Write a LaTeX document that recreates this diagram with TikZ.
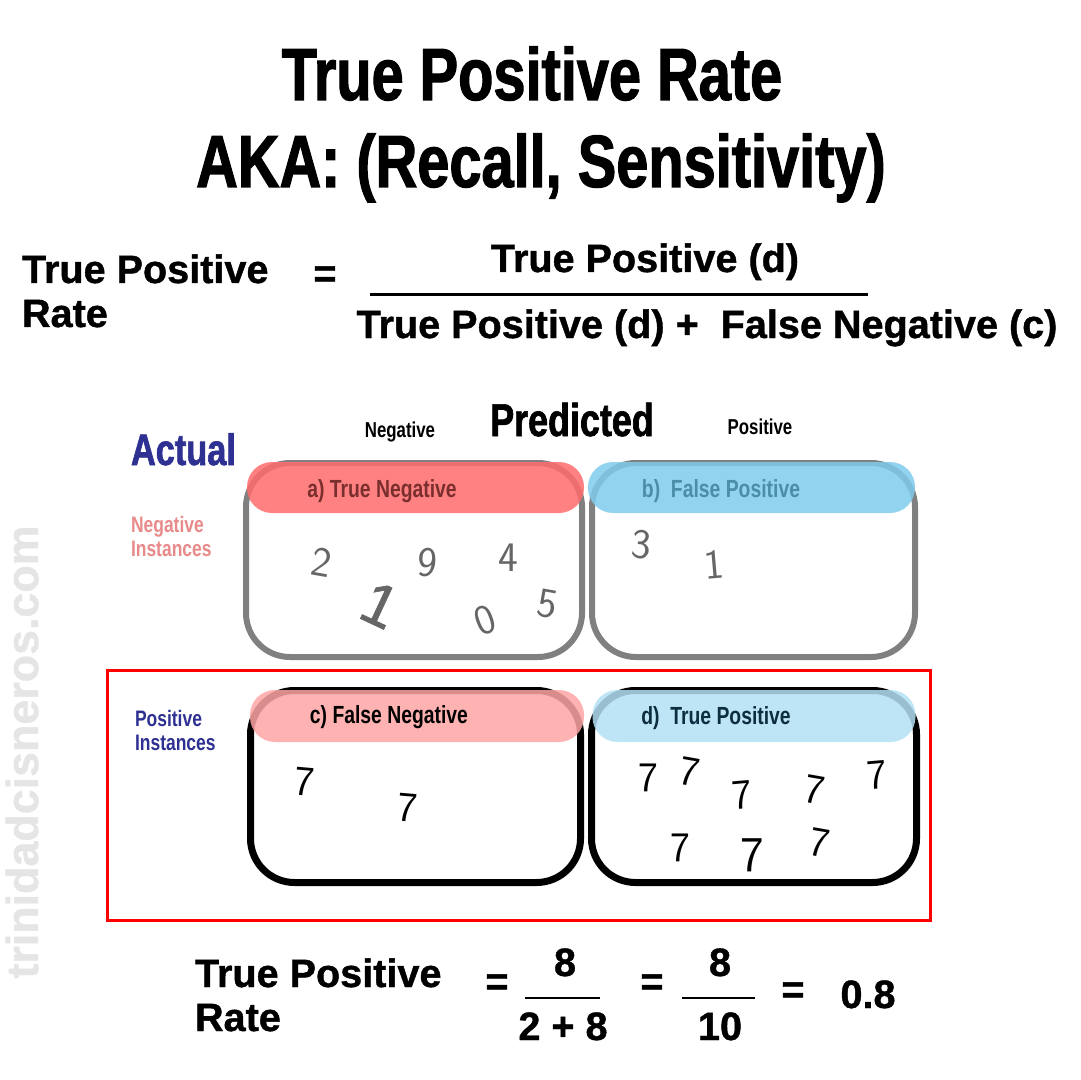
\documentclass[tikz,border=0pt]{standalone}
\usepackage{fontspec}
\setmainfont{Liberation Sans}
\newfontfamily\condfont[FakeStretch=0.78]{Liberation Sans}
\newfontfamily\titlefont[FakeStretch=0.78,FakeBold=1.5]{Liberation Sans}
\newfontfamily\heavyfont[FakeBold=1]{Liberation Sans}
\usepackage{xcolor}
\usepackage{tikz}
\usetikzlibrary{positioning}

\definecolor{navy}{HTML}{2E3192}
\definecolor{pinktxt}{HTML}{E88A8A}
\definecolor{tnred}{HTML}{FF6B6B}
\definecolor{tntxt}{HTML}{7A2E2E}
\definecolor{fpblue}{HTML}{7FCBEC}
\definecolor{fptxt}{HTML}{4A8EAA}
\definecolor{fnpink}{HTML}{FFA5A5}
\definecolor{tpblue}{HTML}{B3E0F4}
\definecolor{tptxt}{HTML}{0D2E3D}

\begin{document}
\begin{tikzpicture}[
  x=0.5pt, y=-0.5pt,
  every node/.style={inner sep=0pt, outer sep=0pt},
  cell/.style={draw, rounded corners=22pt, line width=3pt, minimum height=97pt},
  head/.style={rounded corners=12.5pt, minimum height=25.5pt, fill opacity=0.85},
  headtxt/.style={font=\condfont\bfseries\fontsize{12.4}{14}\selectfont},
  formula/.style={font=\heavyfont\bfseries\fontsize{19.8}{22}\selectfont, anchor=base},
  side/.style={font=\condfont\bfseries\fontsize{11.2}{13}\selectfont, anchor=base west},
  digit/.style={font=\sffamily\fontsize{21}{21}\selectfont},
]
\useasboundingbox (0,0) rectangle (1080,1080);

% watermark
\node (W) [rotate=90, text=black!10, font=\heavyfont\bfseries\fontsize{22.4}{24}\selectfont] at (22,752) {trinidadcisneros.com};

% title
\node (T1) [anchor=base, font=\titlefont\bfseries\fontsize{37}{40}\selectfont] at (532,100) {True Positive Rate};
\node (T2) [anchor=base, font=\titlefont\bfseries\fontsize{37}{40}\selectfont] at (541,187) {AKA: (Recall, Sensitivity)};

% definition
\node (L1) [formula, anchor=base west] at (22,283) {True Positive};
\node (L2) [formula, anchor=base west] at (22,327) {Rate};
\node (EQ) [formula] at (325,287) {=};
\node (NU) [formula] at (645,272) {True Positive (d)};
\node (DE) [formula] at (707,338) {True Positive (d) +\ \ False Negative (c)};
\coordinate (BL) at (370,295);
\coordinate (BR) at (868,295);
\draw[line width=1.5pt] (BL) -- (BR);

% axis labels
\node (AC) [anchor=base west, text=navy, font=\titlefont\bfseries\fontsize{22}{24}\selectfont] at (131,465) {Actual};
\node (PR) [anchor=base, font=\titlefont\bfseries\fontsize{23}{25}\selectfont] at (572,436) {Predicted};
\node (PN) [anchor=base, font=\condfont\bfseries\fontsize{10.8}{12}\selectfont] at (400,437) {Negative};
\node (PP) [anchor=base, font=\condfont\bfseries\fontsize{10.8}{12}\selectfont] at (760,434) {Positive};
\node (NI1) [side, text=pinktxt] at (131,532) {Negative};
\node (NI2) [side, text=pinktxt] at (131,556) {Instances};
\node (PI1) [side, text=navy] at (135,726) {Positive};
\node (PI2) [side, text=navy] at (135,750) {Instances};

% positive row frame
\coordinate (R1) at (107,670);
\coordinate (R2) at (930,920);
\draw[red, line width=1.5pt] (R1) rectangle (R2);

% cells
\node (TN) [cell, draw=black!50, minimum width=168pt] at (414,560) {};
\node (FP) [cell, draw=black!50, minimum width=161.5pt] at (753.5,560) {};
\node (FN) [cell, draw=black, line width=3.5pt, minimum width=165pt, minimum height=96pt] at (415.5,786.5) {};
\node (TP) [cell, draw=black, line width=3.5pt, minimum width=162.5pt, minimum height=96pt] at (754,786.5) {};

% headers
\node (HA) [head, fill=tnred, minimum width=168.5pt] at (415.5,487.5) {};
\node (HB) [head, fill=fpblue, minimum width=163.5pt] at (751.5,487.5) {};
\node (HC) [head, fill=fnpink, minimum width=167pt, minimum height=26pt] at (417,716) {};
\node (HD) [head, fill=tpblue, minimum width=161.5pt, minimum height=26pt] at (754,716) {};
\node [headtxt, text=tntxt] at (382,491) {a) True Negative};
\node [headtxt, text=fptxt] at (721,491) {b)\ \ False Positive};
\node [headtxt, text=black] at (389,717) {c) False Negative};
\node [headtxt, text=tptxt] at (716,718) {d)\ \ True Positive};

% digits
\node [digit, text=black!60, rotate=-10] at (322,562) {2};
\node [digit, text=black!60, rotate=-5] at (428,563) {9};
\node [digit, text=black!60] at (508,558) {4};
\node [digit, text=black!60, rotate=-25, font=\heavyfont\fontsize{30}{30}\selectfont] at (380,605) {1};
\node [digit, text=black!60, rotate=20] at (485,620) {0};
\node [digit, text=black!60, rotate=-10] at (548,604) {5};
\node [digit, text=black!60, rotate=-5] at (642,545) {3};
\node [digit, text=black!60, rotate=5] at (714,565) {1};
\node [digit, rotate=-5] at (305,782) {7};
\node [digit, rotate=-5] at (408,808) {7};
\node [digit] at (648,778) {7};
\node [digit, rotate=-10] at (690,772) {7};
\node [digit, rotate=5] at (742,795) {7};
\node [digit, rotate=-10] at (815,790) {7};
\node [digit, rotate=5] at (877,775) {7};
\node [digit] at (680,848) {7};
\node [digit, font=\sffamily\fontsize{25}{25}\selectfont] at (752,855) {7};
\node [digit, rotate=-10] at (820,843) {7};

% worked example
\node (B1) [formula, anchor=base west] at (195,987) {True Positive};
\node (B2) [formula, anchor=base west] at (195,1031) {Rate};
\node (E1) [formula] at (497,995) {=};
\node (N1) [formula] at (565,976) {8};
\node (D1) [formula] at (563,1040) {2 + 8};
\coordinate (F1) at (525,998);
\coordinate (F2) at (600,998);
\draw[line width=0.8pt] (F1) -- (F2);
\node (E2) [formula] at (652,995) {=};
\node (N2) [formula] at (720,976) {8};
\node (D2) [formula] at (720,1040) {10};
\coordinate (F3) at (682,998);
\coordinate (F4) at (755,998);
\draw[line width=0.8pt] (F3) -- (F4);
\node (E3) [formula] at (793,1003) {=};
\node (V) [formula] at (868,1008) {0.8};
\end{tikzpicture}
\end{document}
